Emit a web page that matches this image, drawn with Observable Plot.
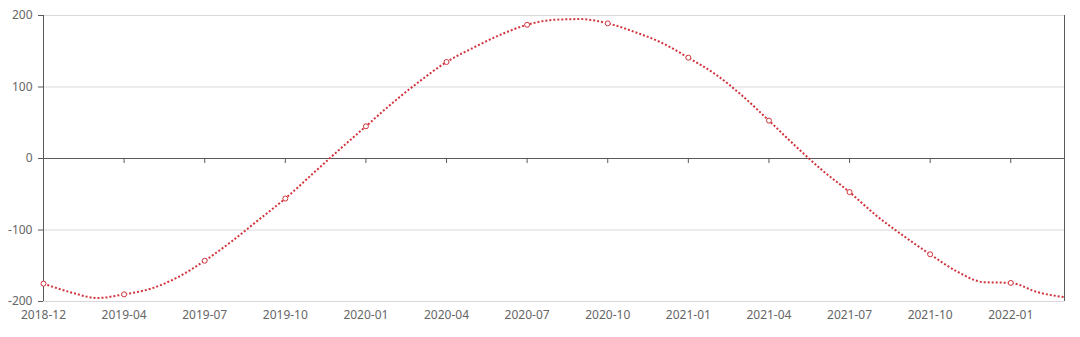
<!DOCTYPE html>
<html>
<head>
<meta charset="utf-8">
<script src="https://cdn.jsdelivr.net/npm/d3@7"></script>
<script src="https://cdn.jsdelivr.net/npm/@observablehq/plot@0.6"></script>
<style>
  html, body { margin: 0; padding: 0; background: #fff; }
  #chart svg { display: block; }
</style>
</head>
<body>
<div id="chart"></div>
<script>
const categories = [
  "2018-12","2019-02","2019-03","2019-04","2019-05","2019-06","2019-07","2019-08","2019-09","2019-10",
  "2019-11","2019-12","2020-01","2020-02","2020-03","2020-04","2020-05","2020-06","2020-07","2020-08",
  "2020-09","2020-10","2020-11","2020-12","2021-01","2021-02","2021-03","2021-04","2021-05","2021-06",
  "2021-07","2021-08","2021-09","2021-10","2021-11","2021-12","2022-01","2022-02","2022-03"
];
const values = [
  -175,-187,-195,-190,-182,-166,-143,-116,-86,-56,
  -22,12,45,78,108,135,155,173,187,194,
  195,189,177,162,141,118,88,53,17,-17,
  -47,-80,-108,-134,-158,-173,-174,-187,-194
];
const xTickLabels = ["2018-12","2019-04","2019-07","2019-10","2020-01","2020-04","2020-07","2020-10","2021-01","2021-04","2021-07","2021-10","2022-01"];
const yTicks = [-200,-100,0,100,200];
const yGrid = [-200,-100,100,200];

const data = categories.map((c, i) => ({cat: c, value: values[i]}));
const symbolData = data.filter(d => xTickLabels.includes(d.cat));

const axisColor = "#5a5a5a";
const textColor = "#666666";
const red = "#d0343c";

const chart = Plot.plot({
  width: 1080,
  height: 337,
  marginLeft: 43,
  marginRight: 16,
  marginTop: 15,
  marginBottom: 36,
  style: {fontFamily: "'Noto Sans', sans-serif", fontSize: "12px", color: textColor, background: "#fff"},
  x: {type: "point", domain: categories, padding: 0},
  y: {domain: [-200, 200]},
  marks: [
    Plot.gridY(yGrid, {stroke: "#d9d9d9", strokeOpacity: 1}),
    Plot.ruleX([categories[0], categories[categories.length - 1]], {stroke: axisColor}),
    Plot.ruleY([0], {stroke: axisColor}),
    Plot.ruleX(xTickLabels, {x: d => d, y1: 0, y2: 0, insetBottom: -5, stroke: axisColor}),
    Plot.axisY({ticks: yTicks, tickSize: 5, tickPadding: 6, stroke: axisColor, fill: textColor, tickFormat: d => String(d), label: null}),
    Plot.axisX({ticks: xTickLabels, tickSize: 0, tickPadding: 9, fill: textColor, label: null}),
    Plot.line(data, {x: "cat", y: "value", stroke: red, strokeWidth: 2, strokeDasharray: "2,2", strokeLinecap: "butt", curve: "monotone-x"}),
    Plot.dot(symbolData, {x: "cat", y: "value", r: 2.5, fill: "#fff", stroke: red, strokeWidth: 1})
  ]
});
document.getElementById("chart").appendChild(chart);
</script>
</body>
</html>
